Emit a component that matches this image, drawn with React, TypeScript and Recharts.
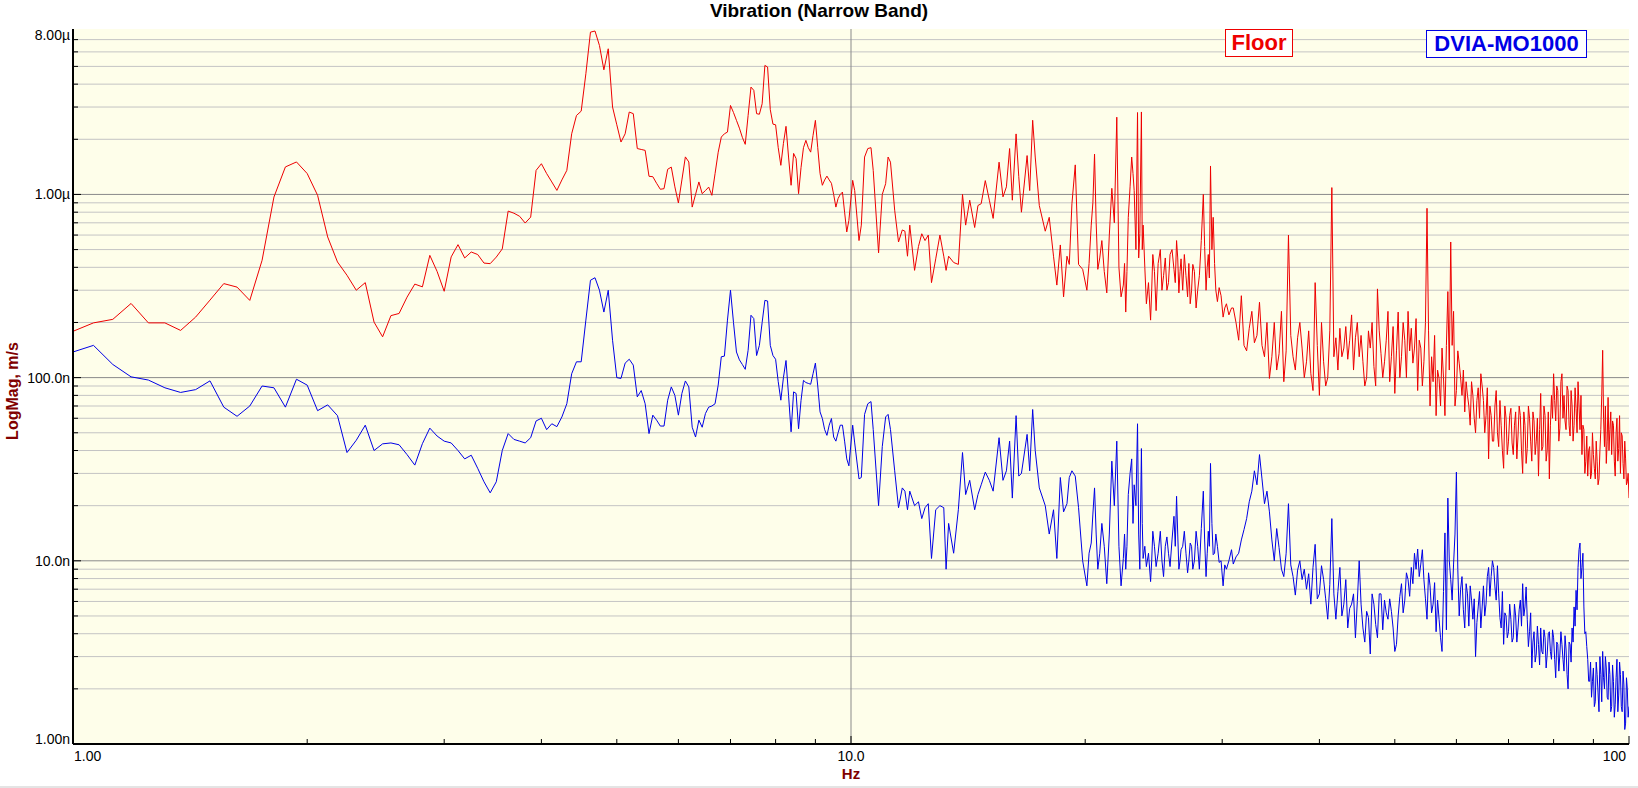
import { LineChart, Line, XAxis, YAxis, CartesianGrid, ReferenceLine } from 'recharts';

// Narrow band vibration spectrum, magnitudes in nm/s (axis shows SI prefixes)

// 1.00 – 3.25 Hz
const freqA = [
  1, 1.0625, 1.125, 1.1875, 1.25, 1.3125, 1.375, 1.4375, 1.5, 1.5625,
  1.625, 1.6875, 1.75, 1.8125, 1.875, 1.9375, 2, 2.0625, 2.125, 2.1875,
  2.25, 2.3125, 2.375, 2.4375, 2.5, 2.5625, 2.625, 2.6875, 2.75, 2.8125,
  2.875, 2.9375, 3, 3.0625, 3.125, 3.1875, 3.25,
];
const floorA = [
  179, 199, 208, 254, 199, 199, 181, 214, 265, 326,
  312, 264, 437, 968, 1413, 1504, 1300, 989, 586, 428,
  362, 300, 330, 201, 167, 218, 224, 275, 324, 313,
  465, 380, 296, 456, 532, 450, 485,
];
const dviaA = [
  138, 150, 118, 101, 97, 88, 83, 86, 96, 69,
  61.5, 70, 90, 88, 69, 98, 91, 66, 71, 62,
  39, 45.5, 55, 40, 43.5, 44, 43, 38, 33.3, 43.6,
  53, 48, 45, 44, 40, 36, 37.7,
];

// 3.31 – 9.94 Hz
const freqB = [
  3.3125, 3.375, 3.4375, 3.5, 3.5625, 3.625, 3.6875, 3.75, 3.8125, 3.875,
  3.9375, 4, 4.0625, 4.125, 4.1875, 4.25, 4.3125, 4.375, 4.4375, 4.5,
  4.5625, 4.625, 4.6875, 4.75, 4.8125, 4.875, 4.9375, 5, 5.0625, 5.125,
  5.1875, 5.25, 5.3125, 5.375, 5.4375, 5.5, 5.5625, 5.625, 5.6875, 5.75,
  5.8125, 5.875, 5.9375, 6, 6.0625, 6.125, 6.1875, 6.25, 6.3125, 6.375,
  6.4375, 6.5, 6.5625, 6.625, 6.6875, 6.75, 6.8125, 6.875, 6.9375, 7,
  7.0625, 7.125, 7.1875, 7.25, 7.3125, 7.375, 7.4375, 7.5, 7.5625, 7.625,
  7.6875, 7.75, 7.8125, 7.875, 7.9375, 8, 8.0625, 8.125, 8.1875, 8.25,
  8.3125, 8.375, 8.4375, 8.5, 8.5625, 8.625, 8.6875, 8.75, 8.8125, 8.875,
  8.9375, 9, 9.0625, 9.125, 9.1875, 9.25, 9.3125, 9.375, 9.4375, 9.5,
  9.5625, 9.625, 9.6875, 9.75, 9.8125, 9.875, 9.9375,
];
const floorB = [
  470, 422, 419, 455, 504, 811, 790, 760, 698, 752,
  1353, 1471, 1300, 1170, 1052, 1200, 1353, 2143, 2698, 2849,
  4560, 7690, 7800, 6500, 4790, 6240, 3000, 2400, 1932, 2143,
  2817, 2760, 1780, 1760, 1740, 1256, 1250, 1150, 1067, 1075,
  1372, 1410, 1100, 898, 1200, 1603, 1504, 853, 1000, 1170,
  1010, 1050, 1097, 989, 1298, 1700, 2056, 2143, 2190, 3060,
  2800, 2537, 2300, 2050, 1877, 2700, 3855, 3700, 2760, 2740,
  3126, 5060, 4960, 2900, 2420, 2400, 1800, 1442, 1900, 2354,
  1600, 1122, 1675, 1570, 1010, 1400, 1800, 1973, 1800, 1702,
  2100, 2537, 1800, 1300, 1122, 1200, 1259, 1200, 1150, 1000,
  853, 950, 1000, 1030, 800, 624, 722,
];
const dviaB = [
  32, 27, 23.5, 27, 40, 49.5, 46, 45, 44, 47,
  58, 60, 52, 56, 54, 61, 72, 105, 122, 122,
  206, 340, 351, 300, 228, 300, 160, 100, 99, 120,
  126, 117, 78.5, 85, 72, 49.5, 62.4, 58.6, 54.4, 54.4,
  75.3, 89, 80, 62.4, 82, 95.9, 89, 53.6, 47.4, 58.6,
  53.6, 63.7, 69, 70, 72, 91, 130, 131, 206, 300,
  200, 138, 125, 118, 111, 141, 219, 210, 132, 150,
  200, 264, 262, 150, 132, 126, 95, 75.3, 100, 124,
  80, 50.6, 83.6, 82, 52.6, 75, 96.6, 94, 93, 92,
  105, 120, 90, 65, 59.8, 52, 48.4, 55, 59.8, 47.4,
  45, 50, 55, 55, 45, 36, 33,
];

// 10 – 31 Hz
const freqC = [
  10.05, 10.11, 10.24, 10.31, 10.41, 10.51, 10.61, 10.68, 10.85, 10.97,
  11.08, 11.16, 11.24, 11.38, 11.51, 11.64, 11.73, 11.82, 11.9, 12.07,
  12.21, 12.33, 12.45, 12.57, 12.69, 12.85, 13.01, 13.16, 13.25, 13.35,
  13.55, 13.74, 13.91, 14.04, 14.21, 14.42, 14.56, 14.7, 14.88, 15.06,
  15.23, 15.5, 15.68, 15.84, 15.99, 16.12, 16.3, 16.43, 16.56, 16.84,
  16.97, 17.12, 17.25, 17.46, 17.77, 17.98, 18.21, 18.39, 18.58, 18.76,
  18.95, 19.08, 19.23, 19.42, 19.61, 19.85, 20.1, 20.36, 20.56, 20.76,
  21.01, 21.32, 21.64, 21.96, 22.24, 22.39, 22.55, 22.72, 22.95, 23.12,
  23.35, 23.51, 23.62, 23.74, 23.97, 24.27, 24.43, 24.67, 24.98, 25.22,
  25.47, 25.71, 26.01, 26.21, 26.39, 26.56, 26.82, 27.08, 27.29, 27.5,
  27.77, 28.04, 28.37, 28.6, 28.79, 28.98, 29.21, 29.44, 29.73, 30.08,
  30.38, 30.84,
];
const floorC = [
  1194, 1050, 560, 680, 1600, 1780, 1800, 1353, 480, 1000,
  1145, 1600, 1500, 820, 550, 640, 630, 460, 680, 385,
  520, 610, 560, 600, 330, 445, 600, 460, 385, 460,
  425, 415, 1000, 680, 930, 660, 870, 890, 1190, 930,
  740, 1500, 970, 1100, 1780, 930, 2140, 1250, 800, 1630,
  1050, 2540, 1600, 870, 630, 750, 460, 320, 530, 276,
  460, 415, 890, 1450, 415, 390, 300, 680, 1660, 390,
  560, 290, 1080, 2640, 276, 320, 228, 750, 1600, 1050,
  2800, 610, 2820, 680, 253, 206, 470, 232, 500, 360,
  300, 470, 390, 560, 290, 445, 470, 276, 253, 415,
  240, 360, 1000, 300, 470, 1430, 750, 300, 310, 214,
  253, 240,
];
const dviaC = [
  55, 44, 28, 28.5, 63, 72, 74, 52, 20, 42,
  61, 63, 52, 31, 19.5, 25, 24, 19, 24, 20,
  21, 17, 19.5, 20.5, 10.3, 19, 20, 19.5, 9, 16,
  11, 19, 39, 23, 27.5, 19, 23, 26, 30.5, 27.5,
  24, 47, 27.5, 31, 45, 22, 62, 29, 30, 49,
  31, 67, 40, 25, 20, 14, 19, 10.3, 28.5, 18.5,
  20.5, 28.5, 31, 29, 19.5, 10, 7.3, 12.5, 25, 9,
  16, 7.5, 35, 45, 7.3, 10.3, 9, 23, 36, 26,
  56, 9, 41, 10.3, 9.3, 7.7, 14.5, 9.3, 14.5, 8.2,
  13.5, 9.3, 17.5, 22.5, 9, 11.5, 14.5, 8.6, 12.5, 9,
  14.5, 9, 24, 8.2, 14.5, 34, 10.8, 14, 9.8, 7.3,
  9, 11.5,
];

// extra in-between readings, 20 – 31 Hz
const freqF = [
  20.23, 20.46, 20.66, 20.88, 21.16, 21.48, 21.8, 22.1, 22.47, 22.63,
  22.84, 23.04, 23.24, 23.43, 23.68, 23.86, 24.12, 24.35, 24.55, 24.82,
  25.1, 25.35, 25.59, 25.86, 26.11, 26.3, 26.48, 26.69, 26.95, 27.18,
  27.4, 27.63, 27.9, 28.2, 28.48, 28.7, 28.88, 29.1, 29.33, 29.58,
  29.9, 30.23, 30.6,
];
const floorF = [
  420, 900, 700, 450, 380, 600, 700, 400, 420, 380,
  1100, 1300, 500, 450, 500, 400, 330, 300, 380, 420,
  300, 450, 330, 500, 330, 450, 380, 300, 360, 420,
  300, 380, 300, 560, 520, 400, 350, 500, 420, 260,
  280, 240, 220,
];
const dviaF = [
  11, 18, 14, 11, 12, 14, 20, 12, 14, 12,
  30, 16, 20, 14, 16, 12, 11, 10, 12, 11,
  10, 12, 11, 13, 12, 14, 10, 12, 11, 10,
  12, 10, 12, 15, 13, 11, 12, 16, 11, 12,
  10, 9.5, 10,
];

// 31 – 100 Hz, half-Hz readings
const freqD = [
  31, 31.5, 32, 32.5, 33, 33.5, 34, 34.5, 35, 35.5,
  36, 36.5, 37, 37.5, 38, 38.5, 39, 39.5, 40, 40.5,
  41, 41.5, 42, 42.5, 43, 43.5, 44, 44.5, 45, 45.5,
  46, 46.5, 47, 47.5, 48, 48.5, 49, 49.5, 50, 50.5,
  51, 51.5, 52, 52.5, 53, 53.5, 54, 54.5, 55, 55.5,
  56, 56.5, 57, 57.5, 58, 58.5, 59, 59.5, 60, 60.5,
  61, 61.5, 62, 62.5, 63, 63.5, 64, 64.5, 65, 65.5,
  66, 66.5, 67, 67.5, 68, 68.5, 69, 69.5, 70, 70.5,
  71, 71.5, 72, 72.5, 73, 73.5, 74, 74.5, 75, 75.5,
  76, 76.5, 77, 77.5, 78, 78.5, 79, 79.5, 80, 80.5,
  81, 81.5, 82, 82.5, 83, 83.5, 84, 84.5, 85, 85.5,
  86, 86.5, 87, 87.5, 88, 88.5, 89, 89.5, 90, 90.5,
  91, 91.5, 92, 92.5, 93, 93.5, 94, 94.5, 95, 95.5,
  96, 96.5, 97, 97.5, 98, 98.5, 99, 99.5, 100,
];
const floorD = [
  240, 160, 150, 186, 155, 258, 130, 99, 200, 135,
  95, 600, 130, 165, 145, 122, 105, 330, 80, 122,
  100, 1090, 165, 186, 145, 126, 220, 165, 130, 122,
  100, 145, 115, 305, 135, 122, 230, 130, 82, 228,
  130, 160, 230, 186, 145, 85, 145, 122, 840, 70,
  95, 62, 99, 145, 62, 295, 550, 230, 85, 120,
  80, 65, 80, 55, 80, 50, 88, 105, 75, 62,
  36, 62, 45, 85, 42, 55, 32, 60, 45, 68,
  38, 65, 48, 62, 30, 55, 41, 60, 35, 58,
  45, 29, 82, 42, 62, 40, 28, 80, 105, 58,
  85, 53, 105, 80, 52, 85, 48, 70, 55, 68,
  95, 52, 38, 52, 35, 29, 42, 30, 38, 28,
  35, 28, 52, 141, 42, 34, 78, 52, 38, 55,
  29, 60, 41, 30, 48, 28, 36, 27, 22,
];
const dviaD = [
  9.6, 11, 14.8, 21, 31, 38, 20.5, 18.5, 10, 11.8,
  8.2, 20.5, 8.2, 8.9, 7.9, 7, 5.8, 12.3, 6.6, 7.9,
  4.8, 17, 4.8, 9.2, 5.8, 4.3, 5.8, 3.8, 10, 4.3,
  5.3, 3.1, 5.8, 3.8, 6.6, 6.1, 4.8, 5.3, 3.2, 5,
  7.5, 6.1, 7.9, 9.2, 11, 11.6, 9.6, 7.9, 4.8, 7.3,
  5.8, 4.1, 4.8, 3.2, 14.2, 22, 7.9, 9.6, 30.5, 5,
  8.2, 4.3, 6.6, 7.3, 4.8, 3, 5.6, 4.3, 7.3, 5.8,
  9.2, 8.2, 9.2, 6.1, 6.6, 4.3, 3.5, 5, 4.1, 4.8,
  3.8, 5, 4.3, 6.1, 7.5, 5.6, 4.8, 4.1, 2.6, 4.1,
  3.1, 3.5, 4.3, 3.1, 3.8, 3.1, 4.1, 2.9, 3.8, 2.3,
  3.5, 3.1, 3.5, 2.5, 3.3, 2, 3.5, 4.3, 5.6, 6.9,
  9.2, 12.5, 9.2, 5.6, 4.1, 2.9, 2.2, 1.8, 2.6, 1.7,
  2.4, 1.5, 2.4, 3.2, 2, 2.6, 1.75, 2.4, 1.6, 2.2,
  1.65, 2.9, 1.85, 2.4, 1.5, 2.1, 1.3, 2, 1.6,
];

// 31 – 100 Hz, quarter-Hz readings in between
const freqE = [
  31.25, 31.75, 32.25, 32.75, 33.25, 33.75, 34.25, 34.75, 35.25, 35.75,
  36.25, 36.75, 37.25, 37.75, 38.25, 38.75, 39.25, 39.75, 40.25, 40.75,
  41.25, 41.75, 42.25, 42.75, 43.25, 43.75, 44.25, 44.75, 45.25, 45.75,
  46.25, 46.75, 47.25, 47.75, 48.25, 48.75, 49.25, 49.75, 50.25, 50.75,
  51.25, 51.75, 52.25, 52.75, 53.25, 53.75, 54.25, 54.75, 55.25, 55.75,
  56.25, 56.75, 57.25, 57.75, 58.25, 58.75, 59.25, 59.75, 60.25, 60.75,
  61.25, 61.75, 62.25, 62.75, 63.25, 63.75, 64.25, 64.75, 65.25, 65.75,
  66.25, 66.75, 67.25, 67.75, 68.25, 68.75, 69.25, 69.75, 70.25, 70.75,
  71.25, 71.75, 72.25, 72.75, 73.25, 73.75, 74.25, 74.75, 75.25, 75.75,
  76.25, 76.75, 77.25, 77.75, 78.25, 78.75, 79.25, 79.75, 80.25, 80.75,
  81.25, 81.75, 82.25, 82.75, 83.25, 83.75, 84.25, 84.75, 85.25, 85.75,
  86.25, 86.75, 87.25, 87.75, 88.25, 88.75, 89.25, 89.75, 90.25, 90.75,
  91.25, 91.75, 92.25, 92.75, 93.25, 93.75, 94.25, 94.75, 95.25, 95.75,
  96.25, 96.75, 97.25, 97.75, 98.25, 98.75, 99.25, 99.75,
];
const floorE = [
  200, 280, 140, 230, 170, 150, 200, 130, 110, 230,
  140, 170, 110, 200, 100, 180, 85, 150, 200, 90,
  180, 130, 110, 130, 190, 160, 110, 200, 170, 90,
  180, 200, 90, 180, 100, 160, 95, 190, 140, 100,
  200, 100, 140, 120, 210, 160, 90, 200, 180, 130,
  170, 110, 70, 100, 150, 110, 150, 70, 140, 100,
  110, 95, 70, 95, 60, 75, 60, 90, 50, 88,
  70, 45, 70, 50, 75, 40, 70, 38, 62, 44,
  55, 36, 70, 40, 65, 34, 70, 45, 65, 38,
  60, 52, 40, 70, 35, 65, 55, 60, 75, 90,
  45, 95, 60, 58, 90, 55, 85, 45, 88, 50,
  70, 80, 55, 30, 48, 40, 28, 50, 32, 45,
  26, 40, 80, 60, 70, 45, 40, 65, 58, 35,
  50, 35, 62, 50, 34, 45, 26, 30,
];
const dviaE = [
  10.5, 13, 17, 24, 26, 28, 24, 13, 15, 9,
  11, 9.5, 6.5, 10, 9, 8.5, 9.2, 6.2, 9.4, 6.2,
  7.4, 6.6, 6.8, 5, 7.9, 5.5, 6.6, 6, 5.8, 3.6,
  4.9, 6.6, 4.5, 6.6, 4.2, 5.2, 6.2, 4.3, 3.5, 6.4,
  5.2, 8.6, 6.4, 7.5, 9, 8.2, 11.5, 6.2, 8.6, 5.2,
  7.6, 6.1, 3.8, 6.8, 4.2, 10, 6.1, 14, 9, 7,
  5.4, 7.5, 4.4, 6.1, 6.2, 4.6, 6.8, 5.6, 5, 8.2,
  6.4, 10, 7.2, 9.4, 4.9, 6.8, 5.2, 3.8, 5.8, 3.6,
  5.8, 3.6, 5.4, 4.4, 5, 7.2, 3.4, 5.2, 3.6, 2.8,
  4.4, 2.7, 3.2, 4.2, 2.6, 4, 3.2, 4.2, 2.9, 3.6,
  2.5, 4.1, 2.9, 3.9, 2.4, 3.6, 2.8, 3.6, 4.4, 5.4,
  11.5, 8, 11, 4, 3.4, 2.2, 2.8, 2.2, 1.6, 2.8,
  1.9, 3, 1.7, 2.3, 3, 1.8, 2.8, 1.5, 2.7, 1.4,
  2.3, 1.5, 2.8, 1.6, 2.5, 1.2, 2.3, 1.4,
];

const freqHz = [...freqA, ...freqB, ...freqC, ...freqF, ...freqD, ...freqE];
const floorNm = [...floorA, ...floorB, ...floorC, ...floorF, ...floorD, ...floorE];
const dviaNm = [...dviaA, ...dviaB, ...dviaC, ...dviaF, ...dviaD, ...dviaE];

const X_TICKS = [1, 2, 3, 4, 5, 6, 7, 8, 9, 10, 20, 30, 40, 50, 60, 70, 80, 90, 100];
const X_LABELS: Record<number, string> = { 1: '1.00', 10: '10.0', 100: '100' };
const Y_TICKS = [
  1, 2, 3, 4, 5, 6, 7, 8, 9, 10, 20, 30, 40, 50, 60, 70, 80, 90,
  100, 200, 300, 400, 500, 600, 700, 800, 900, 1000, 2000, 3000, 4000, 5000, 6000, 7000, 8000,
];
const Y_LABELS: Record<number, string> = { 1: '1.00n', 10: '10.0n', 100: '100.0n', 1000: '1.00µ', 8000: '8.00µ' };
const GRID_MINOR = [2, 3, 4, 5, 6, 7, 8, 9, 20, 30, 40, 50, 60, 70, 80, 90, 200, 300, 400, 500, 600, 700, 800, 900, 2000, 3000, 4000, 5000, 6000, 7000];
const GRID_MAJOR = [10, 100, 1000];

const FONT = 'Arial, "Liberation Sans", sans-serif';
const RED = '#ee0000';
const BLUE = '#0000e6';
const MAROON = '#800000';

function XTick({ x, y, payload }: any) {
  const v = payload.value;
  const label = X_LABELS[v];
  const len = label ? 8 : 5;
  let anchor = 'middle';
  let tx = x;
  if (v === 1) { anchor = 'start'; tx = x + 1; }
  if (v === 100) { anchor = 'end'; tx = x - 3; }
  return (
    <g>
      {v !== 1 && <line x1={x} y1={y} x2={x} y2={y - len} stroke="#000" strokeWidth={1} />}
      {label && (
        <text x={tx} y={y + 12} textAnchor={anchor} dominantBaseline="central" fontSize={14} fontFamily={FONT} fill="#000">
          {label}
        </text>
      )}
    </g>
  );
}

function YTick({ x, y, payload }: any) {
  const v = payload.value;
  const label = Y_LABELS[v];
  const len = label ? 8 : 5;
  let dy = 0;
  if (v === 8000) dy = 6;
  if (v === 1) dy = -5;
  return (
    <g>
      {v !== 1 && v !== 8000 && <line x1={x} y1={y} x2={x + len} y2={y} stroke="#000" strokeWidth={1} />}
      {label && (
        <text x={x - 3} y={y + dy} textAnchor="end" dominantBaseline="central" fontSize={14} fontFamily={FONT} fill="#000">
          {label}
        </text>
      )}
    </g>
  );
}

export default function App() {
  const rows = freqHz
    .map((hz, i) => ({ hz, floor: floorNm[i], dvia: dviaNm[i] }))
    .sort((a, b) => a.hz - b.hz);

  return (
    <div style={{ position: 'absolute', left: 0, top: 0, width: 1638, height: 788, background: '#fff', overflow: 'hidden', fontFamily: FONT }}>
      <LineChart width={1638} height={788} data={rows} margin={{ top: 29, right: 9, left: 0, bottom: 0 }}>
        <CartesianGrid horizontal={false} vertical={false} fill="#fefeea" />
        {GRID_MINOR.map((v) => (
          <ReferenceLine key={`gm${v}`} y={v} stroke="#c4c4c4" strokeWidth={1} />
        ))}
        {GRID_MAJOR.map((v) => (
          <ReferenceLine key={`gM${v}`} y={v} stroke="#8a8a8a" strokeWidth={1} />
        ))}
        <ReferenceLine x={10} stroke="#8a8a8a" strokeWidth={1} />
        <XAxis
          dataKey="hz"
          type="number"
          scale="log"
          domain={[1, 100]}
          allowDataOverflow
          ticks={X_TICKS}
          interval={0}
          tick={XTick}
          tickSize={0}
          tickMargin={0}
          tickLine={false}
          axisLine={{ stroke: '#000', strokeWidth: 2 }}
          height={44}
        />
        <YAxis
          type="number"
          scale="log"
          domain={[1, 8000]}
          allowDataOverflow
          ticks={Y_TICKS}
          interval={0}
          tick={YTick}
          tickSize={0}
          tickMargin={0}
          tickLine={false}
          axisLine={{ stroke: '#000', strokeWidth: 2 }}
          width={73}
        />
        <Line type="linear" dataKey="floor" stroke={RED} strokeWidth={1} dot={false} activeDot={false} isAnimationActive={false} />
        <Line type="linear" dataKey="dvia" stroke={BLUE} strokeWidth={1} dot={false} activeDot={false} isAnimationActive={false} />
      </LineChart>

      {/* title */}
      <div style={{ position: 'absolute', left: 0, top: 0, width: 1638, textAlign: 'center', fontWeight: 'bold', fontSize: 19, lineHeight: '22px' }}>
        Vibration (Narrow Band)
      </div>

      {/* legend boxes */}
      <div style={{ position: 'absolute', left: 1225, top: 29, width: 66, height: 26, border: `1px solid ${RED}`, background: '#fff', color: RED, fontWeight: 'bold', fontSize: 22, lineHeight: '26px', textAlign: 'center' }}>
        Floor
      </div>
      <div style={{ position: 'absolute', left: 1426, top: 30, width: 159, height: 26, border: `1px solid ${BLUE}`, background: '#fff', color: BLUE, fontWeight: 'bold', fontSize: 22, lineHeight: '26px', textAlign: 'center' }}>
        DVIA-MO1000
      </div>

      {/* axis titles */}
      <div style={{ position: 'absolute', left: 13, top: 391, transform: 'translate(-50%, -50%) rotate(-90deg)', whiteSpace: 'nowrap', color: MAROON, fontWeight: 'bold', fontSize: 16 }}>
        LogMag, m/s
      </div>
      <div style={{ position: 'absolute', left: 851, top: 773, transform: 'translate(-50%, -50%)', color: MAROON, fontWeight: 'bold', fontSize: 15 }}>
        Hz
      </div>

      <div style={{ position: 'absolute', left: 0, top: 786, width: 1638, height: 2, background: '#e4e4e4' }} />
    </div>
  );
}
